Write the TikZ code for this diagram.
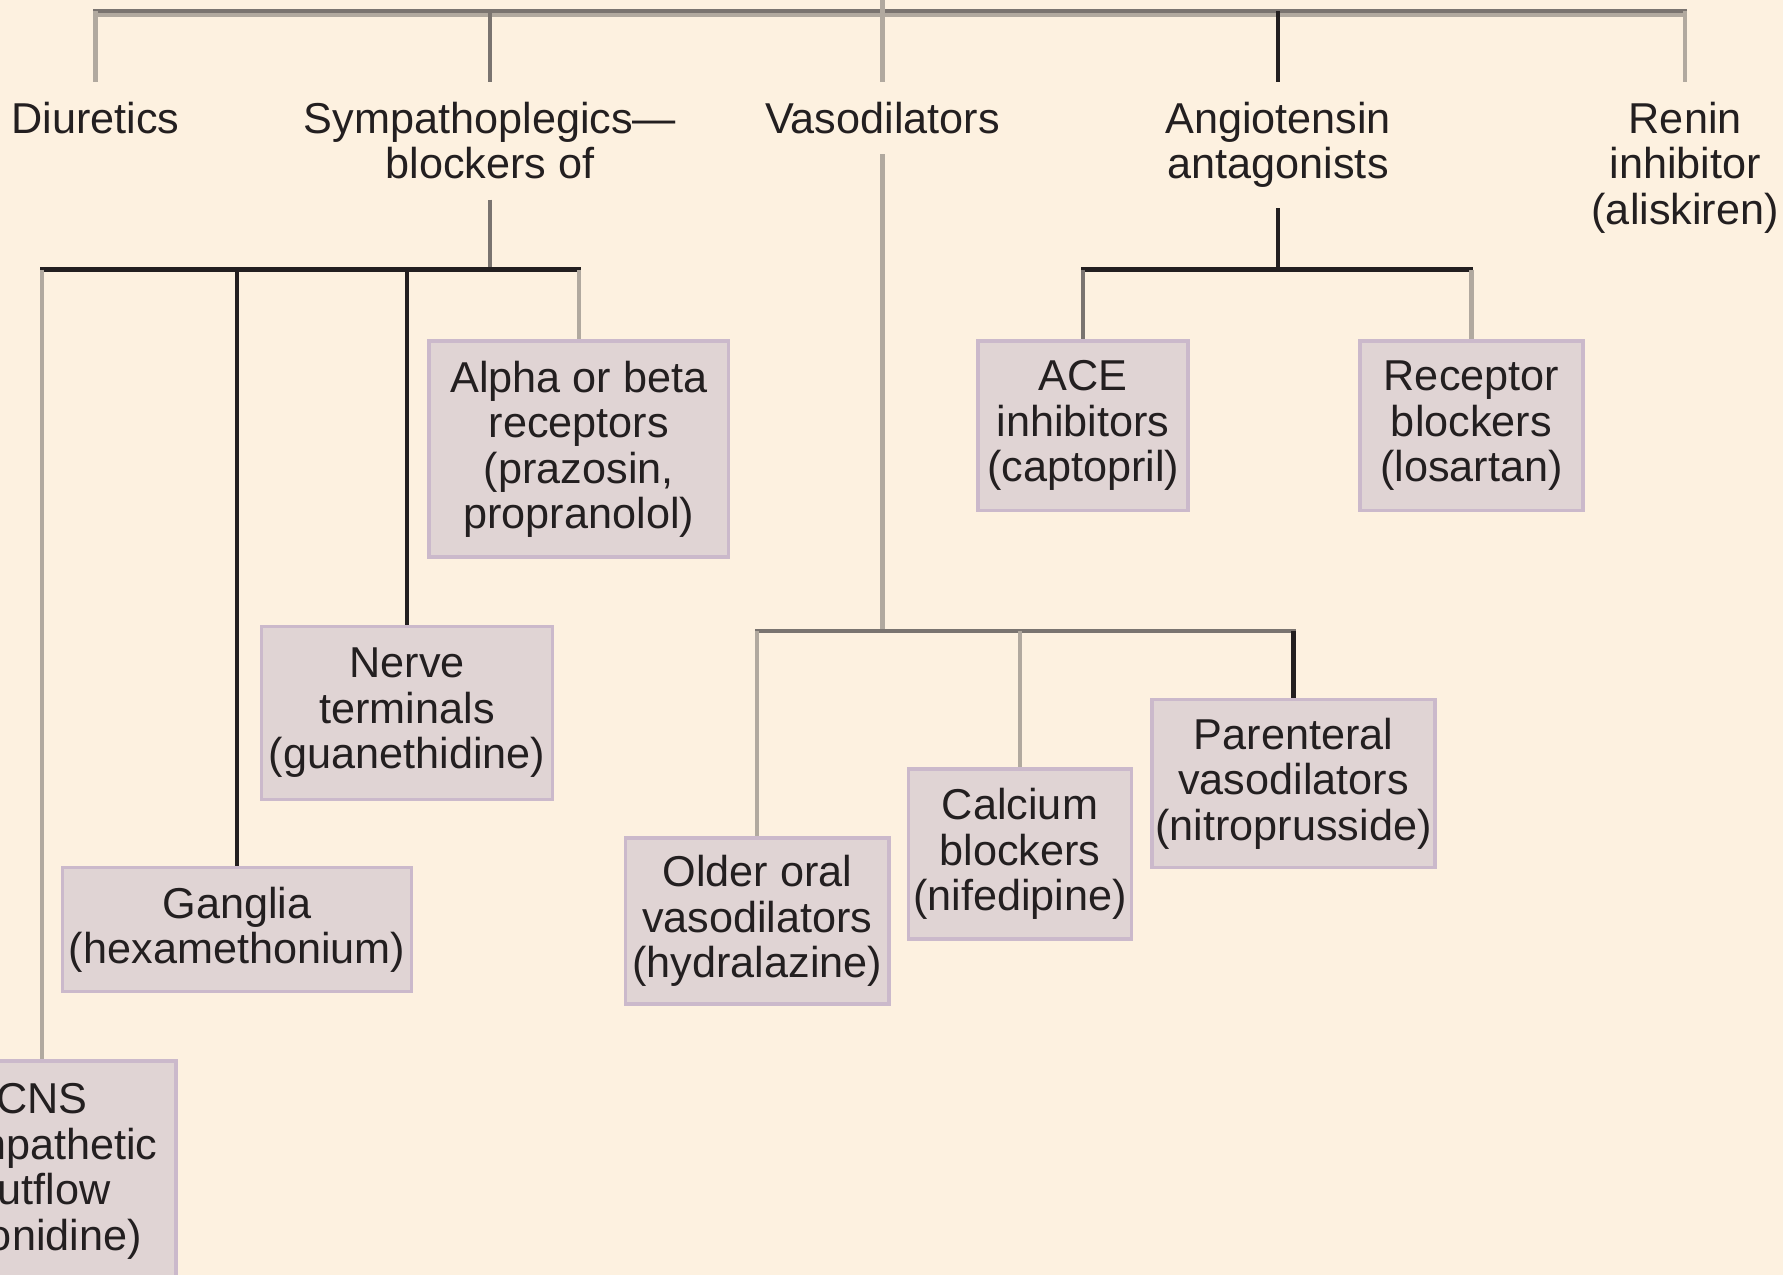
\documentclass[tikz,border=0pt]{standalone}
\usepackage{fontspec}
\setmainfont{Liberation Sans}
\definecolor{bg}{HTML}{FDF1E0}
\definecolor{boxfill}{HTML}{E0D4D4}
\definecolor{boxline}{HTML}{CBB9CB}
\definecolor{ink}{HTML}{231F20}
\definecolor{midgray}{HTML}{7A7470}
\definecolor{lightgray}{HTML}{B1A99F}
\tikzset{
  txt/.style={font=\fontsize{19pt}{20pt}\selectfont, text=ink, align=center},
  lab/.style={txt, inner xsep=2pt, inner ysep=8.7pt, anchor=north},
  box/.style={txt, draw=boxline, fill=boxfill, line width=1.6pt, inner sep=0pt},
  darkc/.style={draw=ink, line width=1.8pt},
  midc/.style={draw=midgray, line width=1.8pt},
  lightc/.style={draw=lightgray, line width=1.9pt},
}
\begin{document}
\begin{tikzpicture}[x=0.5pt,y=-0.5pt]
\useasboundingbox (0,0) rectangle (1568,1121);
\clip (0,0) rectangle (1568,1121);
\fill[bg] (0,0) rectangle (1568,1121);

% top level labels
\node[lab] (diur)  at (84,72)   {Diuretics};
\node[lab] (symp)  at (431,72)  {Sympathoplegics—\\blockers of};
\node[lab] (vaso)  at (776,72)  {Vasodilators};
\node[lab] (angio) at (1124,72) {Angiotensin\\antagonists};
\node[lab] (renin) at (1482,72) {Renin\\inhibitor\\(aliskiren)};

% boxes
\node[box, minimum width=131.5pt, minimum height=95pt] (alpha) at (509,395) {Alpha or beta\\receptors\\(prazosin,\\propranolol)};
\node[box, minimum width=128pt, minimum height=76pt] (nerve) at (358,627) {Nerve\\terminals\\(guanethidine)};
\node[box, minimum width=153.5pt, minimum height=54.5pt] (gang) at (208.5,817.5) {Ganglia\\(hexamethonium)};
\node[box, minimum width=118pt, minimum height=97pt] (cns) at (37,1030) {CNS\\sympathetic\\outflow\\(clonidine)};
\node[box, minimum width=116pt, minimum height=73pt] (older) at (666,810) {Older oral\\vasodilators\\(hydralazine)};
\node[box, minimum width=98pt, minimum height=75pt] (calc) at (897,751) {Calcium\\blockers\\(nifedipine)};
\node[box, minimum width=124.5pt, minimum height=74pt] (paren) at (1137.5,689) {Parenteral\\vasodilators\\(nitroprusside)};
\node[box, minimum width=92.5pt, minimum height=74.5pt] (ace) at (952.5,374.5) {ACE\\inhibitors\\(captopril)};
\node[box, minimum width=98pt, minimum height=74.5pt] (recep) at (1294,374.5) {Receptor\\blockers\\(losartan)};

% junction coordinates
\coordinate (rootin) at (776,0);
\coordinate (tL) at (84,10);
\coordinate (tR) at (1482,10);
\coordinate (sbL) at (37,237);
\coordinate (sbR) at (509,237);
\coordinate (vbL) at (666,555);
\coordinate (vbR) at (1137.5,555);
\coordinate (abL) at (952.5,237);
\coordinate (abR) at (1294,237);

% top bar
\draw[lightc, line width=1.4pt] ([yshift=-1.6pt]tL) -- ([yshift=-1.6pt]tR);
\draw[midc, line cap=rect] (tL) -- (tR);
\draw[lightc] (rootin) -- (vaso.north);
\draw[lightc] (tL) -- (diur.north);
\draw[midc] (symp.north |- tL) -- (symp.north);
\draw[darkc] (angio.north |- tL) -- (angio.north);
\draw[lightc] (tR) -- (renin.north);

% sympathoplegics branch
\draw[midc] (symp.south) -- (symp.south |- sbL);
\draw[darkc, line cap=rect] (sbL) -- (sbR);
\draw[lightc] (sbL) -- (cns.north);
\draw[darkc] (gang.north |- sbL) -- (gang.north);
\draw[darkc] (nerve.north |- sbL) -- (nerve.north);
\draw[lightc] (sbR) -- (alpha.north);

% vasodilators branch
\draw[lightc] (vaso.south) -- (vaso.south |- vbL);
\draw[midc, line cap=rect] (vbL) -- (vbR);
\draw[lightc] (vbL) -- (older.north);
\draw[lightc] (calc.north |- vbL) -- (calc.north);
\draw[darkc] (vbR) -- (paren.north);

% angiotensin branch
\draw[darkc] (angio.south) -- (angio.south |- abL);
\draw[darkc, line cap=rect] (abL) -- (abR);
\draw[midc] (abL) -- (ace.north);
\draw[lightc] (abR) -- (recep.north);
\end{tikzpicture}
\end{document}
